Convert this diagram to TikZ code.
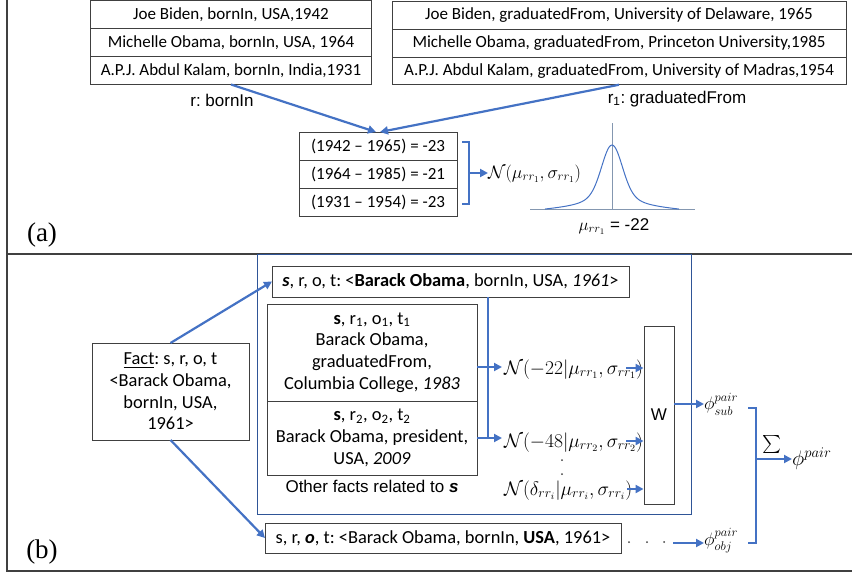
\RequirePackage{fix-cm}
\documentclass[tikz,border=0pt]{standalone}
\usepackage{amsmath}
\usepackage{amssymb}
\usepackage{fontspec}
\usetikzlibrary{arrows.meta,positioning}
\newfontfamily\boxfont{Carlito}
\newfontfamily\labelfont{Liberation Sans}
\newfontfamily\panelfont{Liberation Serif}
\definecolor{arrowblue}{RGB}{68,114,196}
\definecolor{frameblue}{RGB}{47,85,151}
\definecolor{boxgrey}{RGB}{64,64,64}
\definecolor{axisgrey}{RGB}{132,151,176}
\tikzset{
  cell/.style={draw=boxgrey,line width=0.9pt,inner sep=0pt,outer sep=0pt,
    font=\boxfont\fontsize{17}{20}\selectfont},
  factbox/.style={draw=boxgrey,line width=0.9pt,inner sep=0pt,outer sep=0pt,
    align=center,font=\boxfont\fontsize{18.4}{21.7}\selectfont},
  flow/.style={draw=arrowblue,line width=2.2pt,-{Triangle[length=8pt,width=8pt]}},
  wire/.style={draw=arrowblue,line width=2.2pt},
  caption/.style={inner sep=1pt,font=\labelfont\fontsize{17}{20}\selectfont},
  formula/.style={inner sep=0pt,font=\fontsize{18}{21}\selectfont},
  bigformula/.style={formula,font=\fontsize{19.5}{23}\selectfont},
  panel/.style={font=\panelfont\fontsize{27}{30}\selectfont}
}
\newcommand{\fillDots}[3]{
  \fill[boxgrey] (#1) circle (1pt);
  \fill[boxgrey] (#2) circle (1pt);
  \fill[boxgrey] (#3) circle (1pt);
}

\begin{document}
\frenchspacing
\begin{tikzpicture}[x=1pt,y=-1pt]
  \useasboundingbox (0,0) rectangle (852,573);

  \draw[boxgrey,line width=1.2pt] (7,0) -- (7,571) -- (852,571); % outer frame
  \draw[boxgrey,line width=1.2pt] (7,254) -- (852,254);

  % panel (a)
  \node[cell,minimum width=281pt,minimum height=28pt] (born1) at (231,14.5) {Joe Biden, bornIn, USA,1942};
  \node[cell,minimum width=281pt,minimum height=28pt,below=0pt of born1] (born2) {Michelle Obama, bornIn, USA, 1964};
  \node[cell,minimum width=281pt,minimum height=28pt,below=0pt of born2] (born3) {A.P.J. Abdul Kalam, bornIn, India,1931};

  \node[cell,minimum width=454pt,minimum height=27.7pt] (grad1) at (619,15.5) {Joe Biden, graduatedFrom, University of Delaware, 1965};
  \node[cell,minimum width=454pt,minimum height=27.7pt,below=0pt of grad1] (grad2) {Michelle Obama, graduatedFrom, Princeton University,1985};
  \node[cell,minimum width=454pt,minimum height=27.7pt,below=0pt of grad2] (grad3) {A.P.J. Abdul Kalam, graduatedFrom, University of Madras,1954};

  \node[caption] (rlabel) at (222,100) {r: bornIn};
  \node[caption] (r1label) at (677,99) {r\textsubscript{1}: graduatedFrom};

  \node[cell,minimum width=158pt,minimum height=28pt] (diff1) at (378,146) {(1942 \textendash{} 1965) = -23};
  \node[cell,minimum width=158pt,minimum height=28pt,below=0pt of diff1] (diff2) {(1964 \textendash{} 1985) = -21};
  \node[cell,minimum width=158pt,minimum height=28pt,below=0pt of diff2] (diff3) {(1931 \textendash{} 1954) = -23};

  \draw[flow] (born3.south) -- ([xshift=-2pt]diff1.north);
  \draw[flow] (grad3.south) -- ([xshift=2pt]diff1.north);

  \coordinate (btop) at (462,142);
  \coordinate (bbot) at (462,204);
  \coordinate (bmid) at (469,173);
  \draw[wire] (btop) -- ++(7,0) |- (bbot);
  \node[formula,anchor=base west] (gauss) at (488,178) {$\mathcal{N}(\mu_{rr_1},\sigma_{rr_1})$};
  \draw[flow] (bmid) -- (gauss.west |- bmid);

  \draw[axisgrey,line width=0.8pt] (530,209) -- (695,209);
  \draw[axisgrey,line width=0.8pt] (612,123) -- (612,209);
  \draw[arrowblue,line width=1pt,domain=-67:67,samples=120,smooth]
    plot ({612+\x},{209-(40*exp(-((\x)*(\x))/200)+24/(1+((\x)*(\x))/400)-2*((\x)*(\x))/4489)});
  \node[caption,anchor=base] (mulabel) at (614,230) {$\mu_{rr_1}$ = -22};

  \node[panel] (pa) at (42,235) {(a)};

  % panel (b)
  \draw[frameblue,line width=0.9pt] (257,254) rectangle (691,514);

  \node[factbox,minimum width=157pt,minimum height=97pt] (fact) at (170.5,391.5) {\underline{Fact}: s, r, o, t\\<Barack Obama,\\bornIn, USA,\\1961>};
  \node[factbox,minimum width=357pt,minimum height=31pt] (subj) at (450.5,281.5) {\textbf{\textit{s}}, r, o, t: <\textbf{Barack Obama}, bornIn, USA, \textit{1961}>};
  \node[factbox,minimum width=356pt,minimum height=30pt] (obj) at (443,538) {s, r, \textbf{\textit{o}}, t: <Barack Obama, bornIn, \textbf{USA}, 1961>};

  \node[factbox,minimum width=210pt,minimum height=97pt] (rel1) at (372,352.5) {\textbf{s}, r\textsubscript{1}, o\textsubscript{1}, t\textsubscript{1}\\Barack Obama,\\graduatedFrom,\\Columbia College, \textit{1983}};
  \node[factbox,minimum width=210pt,minimum height=74pt,below=0pt of rel1] (rel2) {\textbf{s}, r\textsubscript{2}, o\textsubscript{2}, t\textsubscript{2}\\Barack Obama, president,\\USA, \textit{2009}};
  \node[caption,below=4pt of rel2] (other) {Other facts related to \textbf{\textit{s}}};

  \draw[flow] (fact.north) -- (subj.west);
  \draw[flow] (fact.south) -- (obj.west);

  \coordinate (fork) at (488,367);
  \coordinate (tap1) at (502,367);
  \coordinate (tap2) at (502,438);
  \draw[wire] (subj.south -| fork) -- (fork |- tap2);
  \draw[flow] (rel1.east |- tap1) -- (tap1);
  \draw[flow] (rel2.east |- tap2) -- (tap2);

  \node[bigformula,anchor=base west] (gauss1) at (504,374) {$\mathcal{N}(-22|\mu_{rr_1},\sigma_{rr_1})$};
  \node[bigformula,anchor=base west] (gauss2) at (504,447) {$\mathcal{N}(-48|\mu_{rr_2},\sigma_{rr_2})$};
  \node[bigformula,anchor=base west] (gauss3) at (504,495) {$\mathcal{N}(\delta_{rr_i}|\mu_{rr_i},\sigma_{rr_i})$};
  \fill[boxgrey] (562,460) circle (1pt);
  \fill[boxgrey] (562,474) circle (1pt);

  \node[draw=boxgrey,line width=0.9pt,minimum width=30pt,minimum height=178pt,
    font=\labelfont\fontsize{17}{20}\selectfont] (wbox) at (659,415) {W};
  \coordinate (win1) at (626,368);
  \coordinate (win2) at (626,441);
  \coordinate (win3) at (627,489);
  \draw[flow] (win1) -- (win1 -| wbox.west);
  \draw[flow] (win2) -- (win2 -| wbox.west);
  \draw[flow] (win3) -- (win3 -| wbox.west);

  \node[formula,anchor=west] (psub) at (704,404) {$\phi^{pair}_{sub}$};
  \draw[flow] (wbox.east |- psub) -- (psub.west);

  \fillDots{629,542}{647,542}{664,542};
  \coordinate (dotsend) at (673,543);
  \node[formula,anchor=west] (pobj) at (704,541) {$\phi^{pair}_{obj}$};
  \draw[flow] (dotsend) -- (pobj.west |- dotsend);

  \coordinate (ktop) at (748,408);
  \coordinate (kbot) at (748,543);
  \coordinate (kmid) at (756,459);
  \draw[wire] (ktop) -- ++(8,0) |- (kbot);
  \node[formula] (sum) at (772,444) {$\sum$};
  \node[formula,anchor=west,font=\fontsize{21}{24}\selectfont] (ptotal) at (792,459) {$\phi^{pair}$};
  \draw[flow] (kmid) -- (ptotal.west |- kmid);

  \node[panel] (pb) at (42,552) {(b)};
\end{tikzpicture}
\end{document}
